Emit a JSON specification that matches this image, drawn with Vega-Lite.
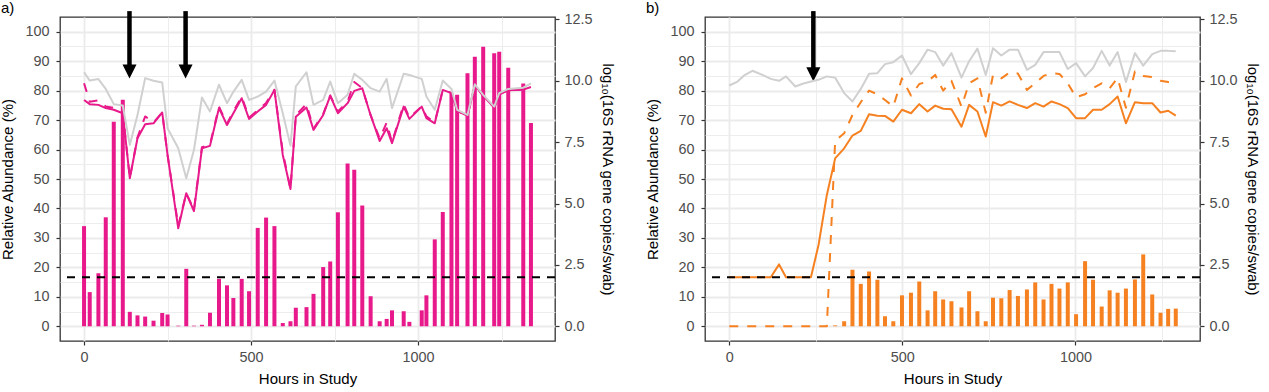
{
  "$schema": "https://vega.github.io/schema/vega-lite/v6.json",
  "padding": {"left": 0, "top": 0, "right": 6, "bottom": 0},
  "spacing": 30,
  "config": {
    "font": "Liberation Sans",
    "view": {"stroke": "#333333", "strokeWidth": 1.3},
    "axis": {"domain": false, "labelFontSize": 14.4, "labelColor": "#4D4D4D", "titleFontSize": 15, "titleFontWeight": "normal", "titleColor": "#000000", "tickColor": "#333333", "tickSize": 4, "tickWidth": 1.2, "gridColor": "#EBEBEB", "labelPadding": 5, "titlePadding": 8, "labelOverlap": false},
    "axisLeft": {"labelPadding": 7, "titlePadding": 9},
    "axisRight": {"labelPadding": 5, "titlePadding": 7},
    "axisBottom": {"labelPadding": 5, "titlePadding": 8},
    "title": {"fontSize": 15, "fontWeight": "normal", "anchor": "start", "frame": "bounds", "offset": -7, "color": "#000000"}
  },
  "datasets": {
    "a": [
      {"h": 0, "ab": 34.0, "gray": 10.35, "solid": 9.22, "dash": 9.9},
      {"h": 17, "ab": 11.6, "gray": 10.01, "solid": 9.05, "dash": 9.15},
      {"h": 43, "ab": 18.0, "gray": 10.07, "solid": 9.02, "dash": 9.2},
      {"h": 65, "ab": 37.0, "gray": 9.67, "solid": 8.89, "dash": 8.95},
      {"h": 89, "ab": 69.4, "gray": 9.05, "solid": 8.82, "dash": 8.9},
      {"h": 116, "ab": 76.9, "gray": 8.99, "solid": 8.68, "dash": 8.7},
      {"h": 137, "ab": 4.9, "gray": 7.39, "solid": 6.03, "dash": 6.03},
      {"h": 160, "ab": 3.7, "gray": 8.61, "solid": 7.66, "dash": 7.7},
      {"h": 183, "ab": 3.3, "gray": 10.11, "solid": 8.23, "dash": 8.55},
      {"h": 208, "ab": 1.9, "gray": 10.0, "solid": 8.27, "dash": 8.3},
      {"h": 234, "ab": 4.5, "gray": 9.93, "solid": 8.71, "dash": 8.71},
      {"h": 250, "ab": 4.0, "gray": 8.07, "solid": 6.98, "dash": 6.98},
      {"h": 282, "ab": 0.2, "gray": 7.25, "solid": 3.99, "dash": 4.1},
      {"h": 306, "ab": 19.5, "gray": 6.03, "solid": 5.42, "dash": 5.42},
      {"h": 329, "ab": 0.2, "gray": 7.18, "solid": 4.69, "dash": 4.75},
      {"h": 353, "ab": 0.5, "gray": 9.32, "solid": 7.25, "dash": 7.3},
      {"h": 377, "ab": 4.6, "gray": 8.75, "solid": 7.35, "dash": 7.4},
      {"h": 404, "ab": 16.1, "gray": 9.84, "solid": 8.89, "dash": 8.95},
      {"h": 428, "ab": 13.9, "gray": 9.09, "solid": 8.2, "dash": 8.25},
      {"h": 447, "ab": 9.6, "gray": 9.55, "solid": 8.68, "dash": 8.75},
      {"h": 472, "ab": 16.1, "gray": 10.04, "solid": 9.29, "dash": 9.35},
      {"h": 494, "ab": 11.9, "gray": 9.22, "solid": 8.45, "dash": 8.5},
      {"h": 520, "ab": 33.4, "gray": 9.36, "solid": 8.75, "dash": 8.8},
      {"h": 545, "ab": 36.9, "gray": 9.56, "solid": 9.02, "dash": 9.1},
      {"h": 570, "ab": 34.0, "gray": 10.01, "solid": 9.63, "dash": 9.63},
      {"h": 595, "ab": 1.1, "gray": 8.68, "solid": 6.98, "dash": 7.1},
      {"h": 618, "ab": 1.7, "gray": 7.36, "solid": 5.59, "dash": 5.59},
      {"h": 634, "ab": 6.3, "gray": 9.77, "solid": 8.54, "dash": 8.6},
      {"h": 666, "ab": 6.5, "gray": 10.35, "solid": 8.91, "dash": 9.05},
      {"h": 687, "ab": 11.0, "gray": 9.02, "solid": 8.0, "dash": 8.05},
      {"h": 716, "ab": 20.1, "gray": 9.22, "solid": 8.61, "dash": 8.65},
      {"h": 737, "ab": 22.0, "gray": 9.97, "solid": 9.39, "dash": 9.4},
      {"h": 760, "ab": 38.7, "gray": 9.09, "solid": 8.68, "dash": 8.75},
      {"h": 789, "ab": 55.3, "gray": 9.43, "solid": 9.09, "dash": 9.15},
      {"h": 809, "ab": 53.1, "gray": 10.29, "solid": 9.59, "dash": 9.95},
      {"h": 833, "ab": 41.0, "gray": 10.04, "solid": 9.7, "dash": 9.7},
      {"h": 858, "ab": 10.2, "gray": 9.7, "solid": 8.6, "dash": 8.6},
      {"h": 885, "ab": 1.7, "gray": 9.56, "solid": 7.55, "dash": 7.65},
      {"h": 906, "ab": 2.5, "gray": 10.08, "solid": 8.07, "dash": 8.3},
      {"h": 922, "ab": 5.4, "gray": 8.89, "solid": 7.46, "dash": 7.5},
      {"h": 957, "ab": 5.1, "gray": 10.29, "solid": 8.95, "dash": 9.05},
      {"h": 974, "ab": 1.5, "gray": 10.24, "solid": 8.45, "dash": 8.5},
      {"h": 1011, "ab": 5.4, "gray": 10.08, "solid": 8.95, "dash": 8.95},
      {"h": 1025, "ab": 10.5, "gray": 9.36, "solid": 8.48, "dash": 8.55},
      {"h": 1050, "ab": 29.5, "gray": 8.82, "solid": 8.27, "dash": 8.3},
      {"h": 1074, "ab": 38.8, "gray": 10.01, "solid": 9.63, "dash": 9.63},
      {"h": 1100, "ab": 79.0, "gray": 9.67, "solid": 9.5, "dash": 9.5},
      {"h": 1117, "ab": 78.6, "gray": 8.82, "solid": 8.78, "dash": 8.78},
      {"h": 1148, "ab": 85.9, "gray": 8.61, "solid": 8.57, "dash": 8.57},
      {"h": 1170, "ab": 91.5, "gray": 9.86, "solid": 9.82, "dash": 9.82},
      {"h": 1195, "ab": 94.9, "gray": 9.43, "solid": 9.39, "dash": 9.39},
      {"h": 1228, "ab": 92.7, "gray": 8.95, "solid": 8.91, "dash": 8.91},
      {"h": 1243, "ab": 93.2, "gray": 9.5, "solid": 9.45, "dash": 9.45},
      {"h": 1270, "ab": 87.8, "gray": 9.67, "solid": 9.62, "dash": 9.62},
      {"h": 1315, "ab": 82.4, "gray": 9.72, "solid": 9.64, "dash": 9.66},
      {"h": 1338, "ab": 69.0, "gray": 9.9, "solid": 9.75, "dash": 9.8}
    ],
    "b": [
      {"h": 0, "ab": null, "gray": 9.81, "solid": 2.0, "dash": 0},
      {"h": 24, "ab": null, "gray": 9.97, "solid": 2.0, "dash": 0},
      {"h": 43, "ab": null, "gray": 10.22, "solid": 2.0, "dash": 0},
      {"h": 67, "ab": null, "gray": 10.41, "solid": 2.0, "dash": 0},
      {"h": 96, "ab": null, "gray": 10.24, "solid": 2.0, "dash": 0},
      {"h": 120, "ab": null, "gray": 10.08, "solid": 2.0, "dash": 0},
      {"h": 144, "ab": null, "gray": 10.0, "solid": 2.52, "dash": 0},
      {"h": 164, "ab": null, "gray": 10.18, "solid": 2.0, "dash": 0},
      {"h": 191, "ab": null, "gray": 9.77, "solid": 2.0, "dash": 0},
      {"h": 212, "ab": null, "gray": 9.88, "solid": 2.0, "dash": 0},
      {"h": 236, "ab": null, "gray": 9.97, "solid": 2.0, "dash": 0},
      {"h": 258, "ab": null, "gray": 10.04, "solid": 3.31, "dash": 0},
      {"h": 282, "ab": null, "gray": 10.18, "solid": 5.35, "dash": 0},
      {"h": 306, "ab": 0.3, "gray": 10.13, "solid": 6.84, "dash": 7.55},
      {"h": 332, "ab": 1.7, "gray": 9.5, "solid": 7.25, "dash": 7.86},
      {"h": 356, "ab": 19.2, "gray": 9.16, "solid": 7.77, "dash": 8.61},
      {"h": 380, "ab": 14.4, "gray": 9.67, "solid": 7.96, "dash": 9.13},
      {"h": 404, "ab": 18.6, "gray": 10.29, "solid": 8.64, "dash": 9.6},
      {"h": 428, "ab": 15.8, "gray": 10.31, "solid": 8.58, "dash": 9.45},
      {"h": 450, "ab": 3.4, "gray": 10.68, "solid": 8.57, "dash": 9.22},
      {"h": 474, "ab": 1.7, "gray": 10.76, "solid": 8.34, "dash": 8.95},
      {"h": 499, "ab": 10.5, "gray": 11.03, "solid": 8.82, "dash": 10.1},
      {"h": 525, "ab": 11.4, "gray": 10.27, "solid": 8.68, "dash": 9.4},
      {"h": 549, "ab": 15.2, "gray": 10.72, "solid": 9.05, "dash": 9.87},
      {"h": 573, "ab": 5.4, "gray": 11.27, "solid": 8.75, "dash": 9.97},
      {"h": 595, "ab": 11.9, "gray": 11.17, "solid": 8.99, "dash": 10.24},
      {"h": 618, "ab": 9.1, "gray": 10.62, "solid": 8.86, "dash": 9.6},
      {"h": 642, "ab": 8.5, "gray": 11.13, "solid": 8.84, "dash": 10.0},
      {"h": 671, "ab": 6.4, "gray": 10.13, "solid": 8.13, "dash": 8.95},
      {"h": 693, "ab": 11.9, "gray": 10.8, "solid": 9.02, "dash": 9.9},
      {"h": 717, "ab": 5.1, "gray": 11.31, "solid": 8.75, "dash": 10.1},
      {"h": 741, "ab": 1.7, "gray": 10.24, "solid": 7.73, "dash": 8.7},
      {"h": 762, "ab": 9.7, "gray": 11.33, "solid": 9.13, "dash": 10.24},
      {"h": 786, "ab": 9.5, "gray": 11.03, "solid": 8.99, "dash": 10.1},
      {"h": 810, "ab": 12.3, "gray": 11.27, "solid": 9.16, "dash": 10.34},
      {"h": 834, "ab": 10.3, "gray": 11.27, "solid": 9.02, "dash": 10.3},
      {"h": 860, "ab": 12.5, "gray": 10.45, "solid": 8.89, "dash": 9.63},
      {"h": 884, "ab": 14.9, "gray": 10.65, "solid": 9.09, "dash": 9.9},
      {"h": 908, "ab": 9.1, "gray": 11.17, "solid": 8.95, "dash": 10.2},
      {"h": 931, "ab": 14.4, "gray": 11.17, "solid": 9.16, "dash": 10.31},
      {"h": 954, "ab": 12.8, "gray": 11.17, "solid": 9.05, "dash": 10.28},
      {"h": 978, "ab": 14.9, "gray": 10.48, "solid": 8.89, "dash": 9.9},
      {"h": 1002, "ab": 4.1, "gray": 10.72, "solid": 8.48, "dash": 9.33},
      {"h": 1028, "ab": 22.1, "gray": 10.18, "solid": 8.48, "dash": 9.45},
      {"h": 1051, "ab": 15.8, "gray": 10.52, "solid": 8.82, "dash": 9.7},
      {"h": 1076, "ab": 6.7, "gray": 11.22, "solid": 8.82, "dash": 9.9},
      {"h": 1099, "ab": 12.2, "gray": 10.62, "solid": 9.05, "dash": 9.7},
      {"h": 1122, "ab": 11.4, "gray": 11.17, "solid": 9.36, "dash": 10.11},
      {"h": 1146, "ab": 12.8, "gray": 9.95, "solid": 8.27, "dash": 8.9},
      {"h": 1172, "ab": 15.9, "gray": 11.13, "solid": 9.13, "dash": 10.38},
      {"h": 1196, "ab": 24.4, "gray": 10.62, "solid": 9.09, "dash": 10.2},
      {"h": 1222, "ab": 10.8, "gray": 11.09, "solid": 9.09, "dash": 10.15},
      {"h": 1246, "ab": 4.6, "gray": 11.22, "solid": 8.71, "dash": 10.0},
      {"h": 1268, "ab": 5.9, "gray": 11.22, "solid": 8.78, "dash": 9.95},
      {"h": 1290, "ab": 6.0, "gray": 11.2, "solid": 8.58, "dash": 10.0}
    ],
    "arrA": [
      {"h": 136, "top": 107.0, "base": 88.7, "head": 86.5},
      {"h": 304, "top": 107.0, "base": 88.7, "head": 86.5}
    ],
    "arrB": [
      {"h": 243, "top": 107.0, "base": 87.7, "head": 85.6}
    ],
    "thr": [{"thr": 2.0}]
  },
  "hconcat": [
    {
      "width": 495,
      "height": 324,
      "title": {"text": "a)"},
      "resolve": {"scale": {"y": "independent"}},
      "layer": [
        {
          "layer": [
            {
              "data": {"name": "a"},
              "mark": {"type": "bar", "color": "#E8198B", "size": 4},
              "encoding": {
                "x": {"field": "h", "type": "quantitative", "scale": {"domain": [-72, 1410], "nice": false, "zero": false, "padding": 0}, "axis": {"title": "Hours in Study", "format": "d", "labelOverlap": false, "values": [0, 250, 500, 750, 1000, 1250], "labelExpr": "datum.value % 500 === 0 ? datum.label : ''", "tickOpacity": {"condition": {"test": "datum.value % 500 === 0", "value": 1}, "value": 0}, "gridWidth": {"condition": {"test": "datum.value % 500 === 0", "value": 1.8}, "value": 0.9}}},
                "y": {"field": "ab", "type": "quantitative", "scale": {"domain": [-5, 105], "nice": false, "zero": false}, "axis": {"title": "Relative Abundance (%)", "format": "d", "labelOverlap": false, "values": [0, 5, 10, 15, 20, 25, 30, 35, 40, 45, 50, 55, 60, 65, 70, 75, 80, 85, 90, 95, 100], "labelExpr": "datum.value % 10 === 0 ? datum.label : ''", "tickOpacity": {"condition": {"test": "datum.value % 10 === 0", "value": 1}, "value": 0}, "gridWidth": {"condition": {"test": "datum.value % 10 === 0", "value": 1.8}, "value": 0.9}}}
              }
            },
            {
              "data": {"name": "arrA"},
              "mark": {"type": "rule", "color": "#000000", "strokeWidth": 4.5, "strokeCap": "butt"},
              "encoding": {
                "x": {"field": "h", "type": "quantitative", "scale": {"domain": [-72, 1410], "nice": false, "zero": false, "padding": 0}, "axis": {"title": "Hours in Study", "format": "d", "labelOverlap": false, "values": [0, 250, 500, 750, 1000, 1250], "labelExpr": "datum.value % 500 === 0 ? datum.label : ''", "tickOpacity": {"condition": {"test": "datum.value % 500 === 0", "value": 1}, "value": 0}, "gridWidth": {"condition": {"test": "datum.value % 500 === 0", "value": 1.8}, "value": 0.9}}},
                "y": {"field": "top", "type": "quantitative", "scale": {"domain": [-5, 105], "nice": false, "zero": false}, "axis": {"title": "Relative Abundance (%)", "format": "d", "labelOverlap": false, "values": [0, 5, 10, 15, 20, 25, 30, 35, 40, 45, 50, 55, 60, 65, 70, 75, 80, 85, 90, 95, 100], "labelExpr": "datum.value % 10 === 0 ? datum.label : ''", "tickOpacity": {"condition": {"test": "datum.value % 10 === 0", "value": 1}, "value": 0}, "gridWidth": {"condition": {"test": "datum.value % 10 === 0", "value": 1.8}, "value": 0.9}}},
                "y2": {"field": "base"}
              }
            },
            {
              "data": {"name": "arrA"},
              "mark": {"type": "point", "shape": "M-1,-1L1,-1L0,1Z", "size": 196, "filled": true, "color": "#000000", "opacity": 1, "strokeWidth": 0},
              "encoding": {
                "x": {"field": "h", "type": "quantitative", "scale": {"domain": [-72, 1410], "nice": false, "zero": false, "padding": 0}, "axis": {"title": "Hours in Study", "format": "d", "labelOverlap": false, "values": [0, 250, 500, 750, 1000, 1250], "labelExpr": "datum.value % 500 === 0 ? datum.label : ''", "tickOpacity": {"condition": {"test": "datum.value % 500 === 0", "value": 1}, "value": 0}, "gridWidth": {"condition": {"test": "datum.value % 500 === 0", "value": 1.8}, "value": 0.9}}},
                "y": {"field": "head", "type": "quantitative", "scale": {"domain": [-5, 105], "nice": false, "zero": false}, "axis": {"title": "Relative Abundance (%)", "format": "d", "labelOverlap": false, "values": [0, 5, 10, 15, 20, 25, 30, 35, 40, 45, 50, 55, 60, 65, 70, 75, 80, 85, 90, 95, 100], "labelExpr": "datum.value % 10 === 0 ? datum.label : ''", "tickOpacity": {"condition": {"test": "datum.value % 10 === 0", "value": 1}, "value": 0}, "gridWidth": {"condition": {"test": "datum.value % 10 === 0", "value": 1.8}, "value": 0.9}}}
              }
            }
          ]
        },
        {
          "layer": [
            {
              "data": {"name": "a"},
              "mark": {"type": "line", "color": "#E8198B", "strokeWidth": 2, "strokeDash": [9, 9], "strokeJoin": "round"},
              "encoding": {
                "x": {"field": "h", "type": "quantitative", "scale": {"domain": [-72, 1410], "nice": false, "zero": false, "padding": 0}, "axis": {"title": "Hours in Study", "format": "d", "labelOverlap": false, "values": [0, 250, 500, 750, 1000, 1250], "labelExpr": "datum.value % 500 === 0 ? datum.label : ''", "tickOpacity": {"condition": {"test": "datum.value % 500 === 0", "value": 1}, "value": 0}, "gridWidth": {"condition": {"test": "datum.value % 500 === 0", "value": 1.8}, "value": 0.9}}},
                "y": {"field": "dash", "type": "quantitative", "scale": {"domain": [-0.6, 12.6], "nice": false, "zero": false}, "axis": {"orient": "right", "labelOverlap": false, "values": [0, 2.5, 5, 7.5, 10, 12.5], "format": ".1f", "grid": false, "title": "log₁₀(16S rRNA gene copies/swab)"}}
              }
            },
            {
              "data": {"name": "a"},
              "mark": {"type": "line", "color": "#E8198B", "strokeWidth": 2, "strokeJoin": "round"},
              "encoding": {
                "x": {"field": "h", "type": "quantitative", "scale": {"domain": [-72, 1410], "nice": false, "zero": false, "padding": 0}, "axis": {"title": "Hours in Study", "format": "d", "labelOverlap": false, "values": [0, 250, 500, 750, 1000, 1250], "labelExpr": "datum.value % 500 === 0 ? datum.label : ''", "tickOpacity": {"condition": {"test": "datum.value % 500 === 0", "value": 1}, "value": 0}, "gridWidth": {"condition": {"test": "datum.value % 500 === 0", "value": 1.8}, "value": 0.9}}},
                "y": {"field": "solid", "type": "quantitative", "scale": {"domain": [-0.6, 12.6], "nice": false, "zero": false}, "axis": {"orient": "right", "labelOverlap": false, "values": [0, 2.5, 5, 7.5, 10, 12.5], "format": ".1f", "grid": false, "title": "log₁₀(16S rRNA gene copies/swab)"}}
              }
            },
            {
              "data": {"name": "a"},
              "mark": {"type": "line", "color": "#D0D0D0", "strokeWidth": 2, "strokeJoin": "round"},
              "encoding": {
                "x": {"field": "h", "type": "quantitative", "scale": {"domain": [-72, 1410], "nice": false, "zero": false, "padding": 0}, "axis": {"title": "Hours in Study", "format": "d", "labelOverlap": false, "values": [0, 250, 500, 750, 1000, 1250], "labelExpr": "datum.value % 500 === 0 ? datum.label : ''", "tickOpacity": {"condition": {"test": "datum.value % 500 === 0", "value": 1}, "value": 0}, "gridWidth": {"condition": {"test": "datum.value % 500 === 0", "value": 1.8}, "value": 0.9}}},
                "y": {"field": "gray", "type": "quantitative", "scale": {"domain": [-0.6, 12.6], "nice": false, "zero": false}, "axis": {"orient": "right", "labelOverlap": false, "values": [0, 2.5, 5, 7.5, 10, 12.5], "format": ".1f", "grid": false, "title": "log₁₀(16S rRNA gene copies/swab)"}}
              }
            },
            {
              "data": {"name": "thr"},
              "mark": {"type": "rule", "color": "#000000", "strokeWidth": 2, "strokeDash": [8, 7]},
              "encoding": {
                "y": {"field": "thr", "type": "quantitative", "scale": {"domain": [-0.6, 12.6], "nice": false, "zero": false}, "axis": {"orient": "right", "labelOverlap": false, "values": [0, 2.5, 5, 7.5, 10, 12.5], "format": ".1f", "grid": false, "title": "log₁₀(16S rRNA gene copies/swab)"}}
              }
            }
          ]
        }
      ]
    },
    {
      "width": 495,
      "height": 324,
      "title": {"text": "b)"},
      "resolve": {"scale": {"y": "independent"}},
      "layer": [
        {
          "layer": [
            {
              "data": {"name": "b"},
              "mark": {"type": "bar", "color": "#F68121", "size": 4},
              "encoding": {
                "x": {"field": "h", "type": "quantitative", "scale": {"domain": [-70, 1360], "nice": false, "zero": false, "padding": 0}, "axis": {"title": "Hours in Study", "format": "d", "labelOverlap": false, "values": [0, 250, 500, 750, 1000, 1250], "labelExpr": "datum.value % 500 === 0 ? datum.label : ''", "tickOpacity": {"condition": {"test": "datum.value % 500 === 0", "value": 1}, "value": 0}, "gridWidth": {"condition": {"test": "datum.value % 500 === 0", "value": 1.8}, "value": 0.9}}},
                "y": {"field": "ab", "type": "quantitative", "scale": {"domain": [-5, 105], "nice": false, "zero": false}, "axis": {"title": "Relative Abundance (%)", "format": "d", "labelOverlap": false, "values": [0, 5, 10, 15, 20, 25, 30, 35, 40, 45, 50, 55, 60, 65, 70, 75, 80, 85, 90, 95, 100], "labelExpr": "datum.value % 10 === 0 ? datum.label : ''", "tickOpacity": {"condition": {"test": "datum.value % 10 === 0", "value": 1}, "value": 0}, "gridWidth": {"condition": {"test": "datum.value % 10 === 0", "value": 1.8}, "value": 0.9}}}
              }
            },
            {
              "data": {"name": "arrB"},
              "mark": {"type": "rule", "color": "#000000", "strokeWidth": 4.5, "strokeCap": "butt"},
              "encoding": {
                "x": {"field": "h", "type": "quantitative", "scale": {"domain": [-70, 1360], "nice": false, "zero": false, "padding": 0}, "axis": {"title": "Hours in Study", "format": "d", "labelOverlap": false, "values": [0, 250, 500, 750, 1000, 1250], "labelExpr": "datum.value % 500 === 0 ? datum.label : ''", "tickOpacity": {"condition": {"test": "datum.value % 500 === 0", "value": 1}, "value": 0}, "gridWidth": {"condition": {"test": "datum.value % 500 === 0", "value": 1.8}, "value": 0.9}}},
                "y": {"field": "top", "type": "quantitative", "scale": {"domain": [-5, 105], "nice": false, "zero": false}, "axis": {"title": "Relative Abundance (%)", "format": "d", "labelOverlap": false, "values": [0, 5, 10, 15, 20, 25, 30, 35, 40, 45, 50, 55, 60, 65, 70, 75, 80, 85, 90, 95, 100], "labelExpr": "datum.value % 10 === 0 ? datum.label : ''", "tickOpacity": {"condition": {"test": "datum.value % 10 === 0", "value": 1}, "value": 0}, "gridWidth": {"condition": {"test": "datum.value % 10 === 0", "value": 1.8}, "value": 0.9}}},
                "y2": {"field": "base"}
              }
            },
            {
              "data": {"name": "arrB"},
              "mark": {"type": "point", "shape": "M-1,-1L1,-1L0,1Z", "size": 196, "filled": true, "color": "#000000", "opacity": 1, "strokeWidth": 0},
              "encoding": {
                "x": {"field": "h", "type": "quantitative", "scale": {"domain": [-70, 1360], "nice": false, "zero": false, "padding": 0}, "axis": {"title": "Hours in Study", "format": "d", "labelOverlap": false, "values": [0, 250, 500, 750, 1000, 1250], "labelExpr": "datum.value % 500 === 0 ? datum.label : ''", "tickOpacity": {"condition": {"test": "datum.value % 500 === 0", "value": 1}, "value": 0}, "gridWidth": {"condition": {"test": "datum.value % 500 === 0", "value": 1.8}, "value": 0.9}}},
                "y": {"field": "head", "type": "quantitative", "scale": {"domain": [-5, 105], "nice": false, "zero": false}, "axis": {"title": "Relative Abundance (%)", "format": "d", "labelOverlap": false, "values": [0, 5, 10, 15, 20, 25, 30, 35, 40, 45, 50, 55, 60, 65, 70, 75, 80, 85, 90, 95, 100], "labelExpr": "datum.value % 10 === 0 ? datum.label : ''", "tickOpacity": {"condition": {"test": "datum.value % 10 === 0", "value": 1}, "value": 0}, "gridWidth": {"condition": {"test": "datum.value % 10 === 0", "value": 1.8}, "value": 0.9}}}
              }
            }
          ]
        },
        {
          "layer": [
            {
              "data": {"name": "b"},
              "mark": {"type": "line", "color": "#D0D0D0", "strokeWidth": 2, "strokeJoin": "round"},
              "encoding": {
                "x": {"field": "h", "type": "quantitative", "scale": {"domain": [-70, 1360], "nice": false, "zero": false, "padding": 0}, "axis": {"title": "Hours in Study", "format": "d", "labelOverlap": false, "values": [0, 250, 500, 750, 1000, 1250], "labelExpr": "datum.value % 500 === 0 ? datum.label : ''", "tickOpacity": {"condition": {"test": "datum.value % 500 === 0", "value": 1}, "value": 0}, "gridWidth": {"condition": {"test": "datum.value % 500 === 0", "value": 1.8}, "value": 0.9}}},
                "y": {"field": "gray", "type": "quantitative", "scale": {"domain": [-0.6, 12.6], "nice": false, "zero": false}, "axis": {"orient": "right", "labelOverlap": false, "values": [0, 2.5, 5, 7.5, 10, 12.5], "format": ".1f", "grid": false, "title": "log₁₀(16S rRNA gene copies/swab)"}}
              }
            },
            {
              "data": {"name": "b"},
              "mark": {"type": "line", "color": "#F68121", "strokeWidth": 2, "strokeDash": [9, 9], "strokeJoin": "round"},
              "encoding": {
                "x": {"field": "h", "type": "quantitative", "scale": {"domain": [-70, 1360], "nice": false, "zero": false, "padding": 0}, "axis": {"title": "Hours in Study", "format": "d", "labelOverlap": false, "values": [0, 250, 500, 750, 1000, 1250], "labelExpr": "datum.value % 500 === 0 ? datum.label : ''", "tickOpacity": {"condition": {"test": "datum.value % 500 === 0", "value": 1}, "value": 0}, "gridWidth": {"condition": {"test": "datum.value % 500 === 0", "value": 1.8}, "value": 0.9}}},
                "y": {"field": "dash", "type": "quantitative", "scale": {"domain": [-0.6, 12.6], "nice": false, "zero": false}, "axis": {"orient": "right", "labelOverlap": false, "values": [0, 2.5, 5, 7.5, 10, 12.5], "format": ".1f", "grid": false, "title": "log₁₀(16S rRNA gene copies/swab)"}}
              }
            },
            {
              "data": {"name": "b"},
              "mark": {"type": "line", "color": "#F68121", "strokeWidth": 2, "strokeJoin": "round"},
              "encoding": {
                "x": {"field": "h", "type": "quantitative", "scale": {"domain": [-70, 1360], "nice": false, "zero": false, "padding": 0}, "axis": {"title": "Hours in Study", "format": "d", "labelOverlap": false, "values": [0, 250, 500, 750, 1000, 1250], "labelExpr": "datum.value % 500 === 0 ? datum.label : ''", "tickOpacity": {"condition": {"test": "datum.value % 500 === 0", "value": 1}, "value": 0}, "gridWidth": {"condition": {"test": "datum.value % 500 === 0", "value": 1.8}, "value": 0.9}}},
                "y": {"field": "solid", "type": "quantitative", "scale": {"domain": [-0.6, 12.6], "nice": false, "zero": false}, "axis": {"orient": "right", "labelOverlap": false, "values": [0, 2.5, 5, 7.5, 10, 12.5], "format": ".1f", "grid": false, "title": "log₁₀(16S rRNA gene copies/swab)"}}
              }
            },
            {
              "data": {"name": "thr"},
              "mark": {"type": "rule", "color": "#000000", "strokeWidth": 2, "strokeDash": [8, 7]},
              "encoding": {
                "y": {"field": "thr", "type": "quantitative", "scale": {"domain": [-0.6, 12.6], "nice": false, "zero": false}, "axis": {"orient": "right", "labelOverlap": false, "values": [0, 2.5, 5, 7.5, 10, 12.5], "format": ".1f", "grid": false, "title": "log₁₀(16S rRNA gene copies/swab)"}}
              }
            }
          ]
        }
      ]
    }
  ]
}
